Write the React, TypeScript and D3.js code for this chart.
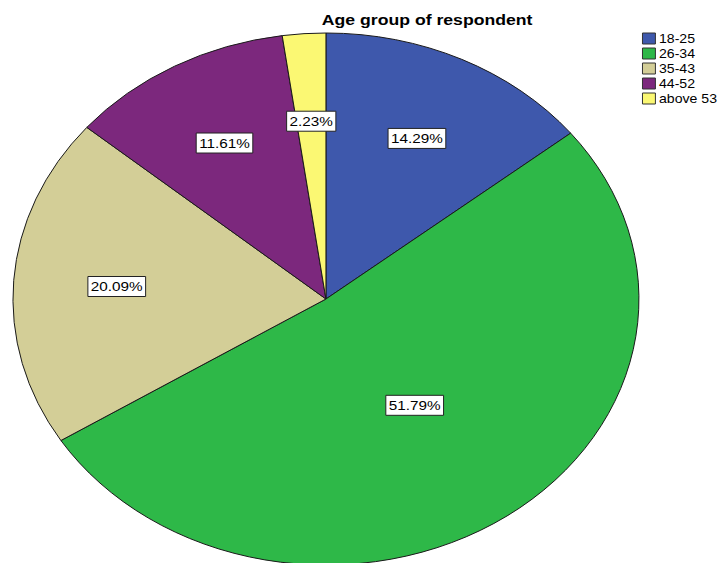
import React, { useEffect, useRef } from "react";
import * as d3 from "d3";

const categories = ["18-25", "26-34", "35-43", "44-52", "above 53"];
const counts = [32, 116, 45, 26, 5];
const percentLabels = ["14.29%", "51.79%", "20.09%", "11.61%", "2.23%"];
const colors = ["#3E58AC", "#2EB848", "#D3CE97", "#7C287D", "#FBF873"];
const title = "Age group of respondent";

const W = 721;
const H = 563;
const SX = 313 / 266; // horizontal stretch of the picture

export default function App() {
  const ref = useRef<SVGSVGElement | null>(null);

  useEffect(() => {
    const svg = d3.select(ref.current);
    svg.selectAll("*").remove();
    const g = svg.append("g").attr("transform", `scale(${SX},1)`);

    const cx = 277;
    const cy = 299;
    const r = 266;

    const pie = d3
      .pie<number>()
      .sort(null)
      .value((d) => d);
    const arcs = pie(counts);
    const arc = d3.arc<d3.PieArcDatum<number>>().innerRadius(0).outerRadius(r);

    const pg = g.append("g").attr("transform", `translate(${cx},${cy})`);
    pg.selectAll("path")
      .data(arcs)
      .join("path")
      .attr("d", arc as any)
      .attr("fill", (_, i) => colors[i])
      .attr("stroke", "#1a1a1a")
      .attr("stroke-width", 1)
      .attr("vector-effect", "non-scaling-stroke");

    const total = d3.sum(counts);
    arcs.forEach((a, i) => {
      const share = counts[i] / total;
      const lr = r * (share > 0.5 ? 0.49 : 0.67);
      const mid = (a.startAngle + a.endAngle) / 2;
      const x = Math.sin(mid) * lr;
      const y = -Math.cos(mid) * lr;
      const lg = pg.append("g").attr("transform", `translate(${x},${y})`);
      const rect = lg.append("rect");
      const t = lg
        .append("text")
        .attr("text-anchor", "middle")
        .attr("dominant-baseline", "central")
        .attr("font-family", "Arial, 'Liberation Sans', sans-serif")
        .attr("font-size", 13)
        .attr("fill", "#000")
        .text(percentLabels[i]);
      const w = (t.node() as SVGTextElement).getComputedTextLength();
      const bw = w + 5;
      const bh = 20;
      rect
        .attr("x", -bw / 2)
        .attr("y", -bh / 2)
        .attr("width", bw)
        .attr("height", bh)
        .attr("fill", "#fff")
        .attr("stroke", "#222")
        .attr("stroke-width", 1)
        .attr("vector-effect", "non-scaling-stroke");
    });

    g.append("text")
      .attr("x", 363)
      .attr("y", 25)
      .attr("text-anchor", "middle")
      .attr("font-family", "Arial, 'Liberation Sans', sans-serif")
      .attr("font-weight", "bold")
      .attr("font-size", 15)
      .attr("fill", "#000")
      .text(title);

    const leg = g.append("g").attr("transform", `translate(546,33)`);
    categories.forEach((c, i) => {
      const row = leg.append("g").attr("transform", `translate(0,${i * 15})`);
      row
        .append("rect")
        .attr("width", 11)
        .attr("height", 11)
        .attr("fill", colors[i])
        .attr("stroke", "#333")
        .attr("stroke-width", 1)
        .attr("vector-effect", "non-scaling-stroke");
      row
        .append("text")
        .attr("x", 14)
        .attr("y", 10)
        .attr("font-family", "Arial, 'Liberation Sans', sans-serif")
        .attr("font-size", 12)
        .attr("fill", "#000")
        .text(c);
    });
  }, []);

  return (
    <svg
      ref={ref}
      width={W}
      height={H}
      style={{ position: "absolute", left: 0, top: 0, background: "#fff" }}
    />
  );
}
